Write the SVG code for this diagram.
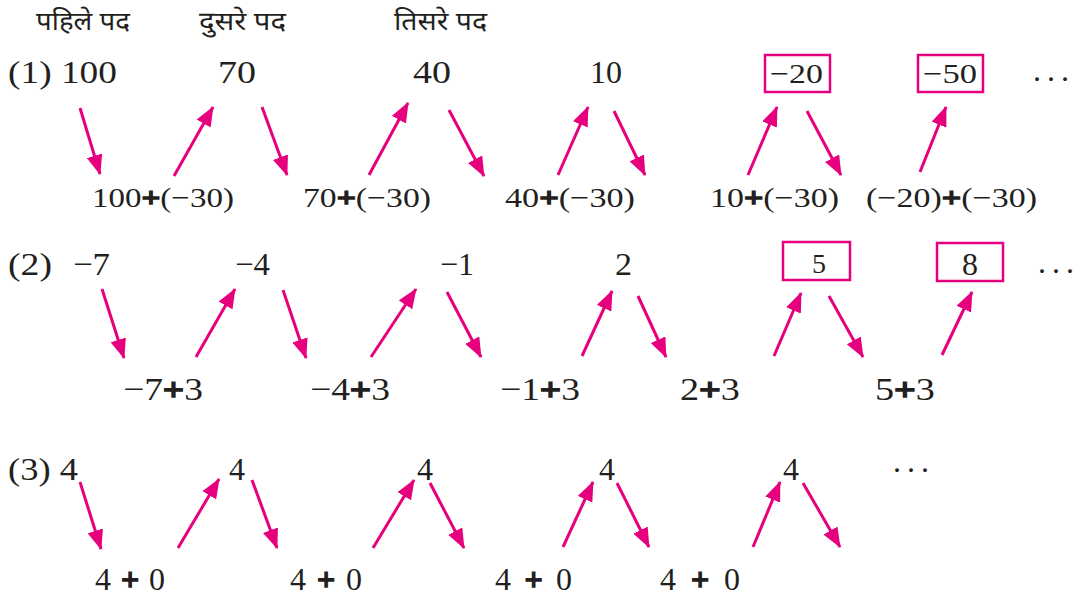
<svg xmlns="http://www.w3.org/2000/svg" width="1089" height="601" viewBox="0 0 1089 601">
<defs>
<marker id="ah" markerUnits="userSpaceOnUse" markerWidth="20" markerHeight="16" viewBox="0 0 20 16" refX="19" refY="8" orient="auto">
<path d="M0,0 L20,8 L0,16 Z" fill="#E6007E"/>
</marker>
</defs>
<style>
.t{font-family:"Liberation Serif","Times New Roman",serif;fill:#231F20}
.big{font-size:32px}
.mid{font-size:32px}
.sm{font-size:28px}
.hd{font-family:"Noto Sans Devanagari","Noto Serif Devanagari","Lohit Devanagari","Noto Sans",sans-serif;font-size:26px;fill:#231F20}
.b{font-weight:bold;stroke:#231F20;stroke-width:1.4}
.box{fill:none;stroke:#E6007E;stroke-width:2.5}
.ar{stroke:#E6007E;stroke-width:3;fill:none;marker-end:url(#ah)}
</style>
<rect width="1089" height="601" fill="#ffffff"/>
<g id="headers">
<text class="hd" x="36" y="30" textLength="94" lengthAdjust="spacingAndGlyphs">पहिले पद</text>
<text class="hd" x="199" y="30" textLength="87" lengthAdjust="spacingAndGlyphs">दुसरे पद</text>
<text class="hd" x="394" y="30" textLength="93" lengthAdjust="spacingAndGlyphs">तिसरे पद</text>
</g>
<g id="row1">
<text class="t big" x="8" y="83" textLength="109" lengthAdjust="spacingAndGlyphs">(1) 100</text>
<text class="t big" x="218" y="83" textLength="38" lengthAdjust="spacingAndGlyphs">70</text>
<text class="t big" x="413" y="83" textLength="38" lengthAdjust="spacingAndGlyphs">40</text>
<text class="t big" x="590" y="83" textLength="32" lengthAdjust="spacingAndGlyphs">10</text>
<g id="r1box1"><rect class="box" x="765" y="55" width="65" height="37"/><text class="t sm" x="770" y="83" textLength="53" lengthAdjust="spacingAndGlyphs">−20</text></g>
<g id="r1box2"><rect class="box" x="918" y="55" width="65" height="37"/><text class="t sm" x="923" y="83" textLength="54" lengthAdjust="spacingAndGlyphs">−50</text></g>
<text class="t big" x="1033" y="81" letter-spacing="6">...</text>
<text class="t sm" x="92" y="207" textLength="142" lengthAdjust="spacingAndGlyphs">100<tspan class="b">+</tspan>(−30)</text>
<text class="t sm" x="303" y="207" textLength="128" lengthAdjust="spacingAndGlyphs">70<tspan class="b">+</tspan>(−30)</text>
<text class="t sm" x="505" y="207" textLength="130" lengthAdjust="spacingAndGlyphs">40<tspan class="b">+</tspan>(−30)</text>
<text class="t sm" x="710" y="207" textLength="129" lengthAdjust="spacingAndGlyphs">10<tspan class="b">+</tspan>(−30)</text>
<text class="t sm" x="866" y="207" textLength="171" lengthAdjust="spacingAndGlyphs">(−20)<tspan class="b">+</tspan>(−30)</text>
</g>
<g id="row2">
<text class="t big" x="8" y="275" textLength="44" lengthAdjust="spacingAndGlyphs">(2)</text>
<text class="t big" x="73" y="275" textLength="37" lengthAdjust="spacingAndGlyphs">−7</text>
<text class="t big" x="235" y="275" textLength="35" lengthAdjust="spacingAndGlyphs">−4</text>
<text class="t big" x="440" y="275" textLength="34" lengthAdjust="spacingAndGlyphs">−1</text>
<text class="t big" x="615" y="275" textLength="17" lengthAdjust="spacingAndGlyphs">2</text>
<g id="r2box1"><rect class="box" x="783" y="242" width="67" height="38"/><text class="t sm" x="819" y="273" text-anchor="middle">5</text></g>
<g id="r2box2"><rect class="box" x="937" y="243" width="66" height="38"/><text class="t big" x="970" y="275" text-anchor="middle">8</text></g>
<text class="t big" x="1038" y="273" letter-spacing="6">...</text>
<text class="t mid" x="123" y="400" textLength="80" lengthAdjust="spacingAndGlyphs">−7<tspan class="b">+</tspan>3</text>
<text class="t mid" x="310" y="400" textLength="80" lengthAdjust="spacingAndGlyphs">−4<tspan class="b">+</tspan>3</text>
<text class="t mid" x="500" y="400" textLength="80" lengthAdjust="spacingAndGlyphs">−1<tspan class="b">+</tspan>3</text>
<text class="t mid" x="680" y="400" textLength="60" lengthAdjust="spacingAndGlyphs">2<tspan class="b">+</tspan>3</text>
<text class="t mid" x="875" y="400" textLength="60" lengthAdjust="spacingAndGlyphs">5<tspan class="b">+</tspan>3</text>
</g>
<g id="row3">
<text class="t big" x="8" y="480" textLength="70" lengthAdjust="spacingAndGlyphs">(3) 4</text>
<text class="t big" x="229" y="480" textLength="16" lengthAdjust="spacingAndGlyphs">4</text>
<text class="t big" x="417" y="480" textLength="16" lengthAdjust="spacingAndGlyphs">4</text>
<text class="t big" x="599" y="480" textLength="16" lengthAdjust="spacingAndGlyphs">4</text>
<text class="t big" x="783" y="480" textLength="16" lengthAdjust="spacingAndGlyphs">4</text>
<text class="t big" x="893" y="472" letter-spacing="6">...</text>
<text class="t mid" x="95" y="590" textLength="70" lengthAdjust="spacing">4 <tspan class="b">+</tspan> 0</text>
<text class="t mid" x="290" y="590" textLength="72" lengthAdjust="spacing">4 <tspan class="b">+</tspan> 0</text>
<text class="t mid" x="495" y="590" textLength="77" lengthAdjust="spacing">4 <tspan class="b">+</tspan> 0</text>
<text class="t mid" x="660" y="590" textLength="80" lengthAdjust="spacing">4 <tspan class="b">+</tspan> 0</text>
</g>
<g id="connectors">
<line class="ar" x1="80" y1="108" x2="100" y2="174"/>
<line class="ar" x1="174" y1="176" x2="213" y2="107"/>
<line class="ar" x1="262" y1="107" x2="287" y2="175"/>
<line class="ar" x1="369" y1="175" x2="408" y2="103"/>
<line class="ar" x1="449" y1="110" x2="484" y2="176"/>
<line class="ar" x1="558" y1="175" x2="588" y2="107"/>
<line class="ar" x1="614" y1="111" x2="645" y2="175"/>
<line class="ar" x1="748" y1="175" x2="777" y2="107"/>
<line class="ar" x1="807" y1="111" x2="841" y2="175"/>
<line class="ar" x1="920" y1="172" x2="946" y2="107"/>
<line class="ar" x1="102" y1="289" x2="124" y2="358"/>
<line class="ar" x1="196" y1="357" x2="235" y2="289"/>
<line class="ar" x1="283" y1="290" x2="306" y2="358"/>
<line class="ar" x1="371" y1="357" x2="416" y2="289"/>
<line class="ar" x1="447" y1="292" x2="481" y2="357"/>
<line class="ar" x1="582" y1="356" x2="612" y2="291"/>
<line class="ar" x1="638" y1="296" x2="666" y2="357"/>
<line class="ar" x1="774" y1="356" x2="801" y2="293"/>
<line class="ar" x1="829" y1="296" x2="863" y2="357"/>
<line class="ar" x1="942" y1="355" x2="972" y2="292"/>
<line class="ar" x1="80" y1="482" x2="101" y2="549"/>
<line class="ar" x1="178" y1="548" x2="219" y2="479"/>
<line class="ar" x1="252" y1="480" x2="277" y2="548"/>
<line class="ar" x1="373" y1="548" x2="414" y2="480"/>
<line class="ar" x1="430" y1="483" x2="464" y2="548"/>
<line class="ar" x1="563" y1="547" x2="593" y2="482"/>
<line class="ar" x1="617" y1="483" x2="649" y2="547"/>
<line class="ar" x1="753" y1="547" x2="780" y2="482"/>
<line class="ar" x1="803" y1="483" x2="840" y2="547"/>
</g>
</svg>
